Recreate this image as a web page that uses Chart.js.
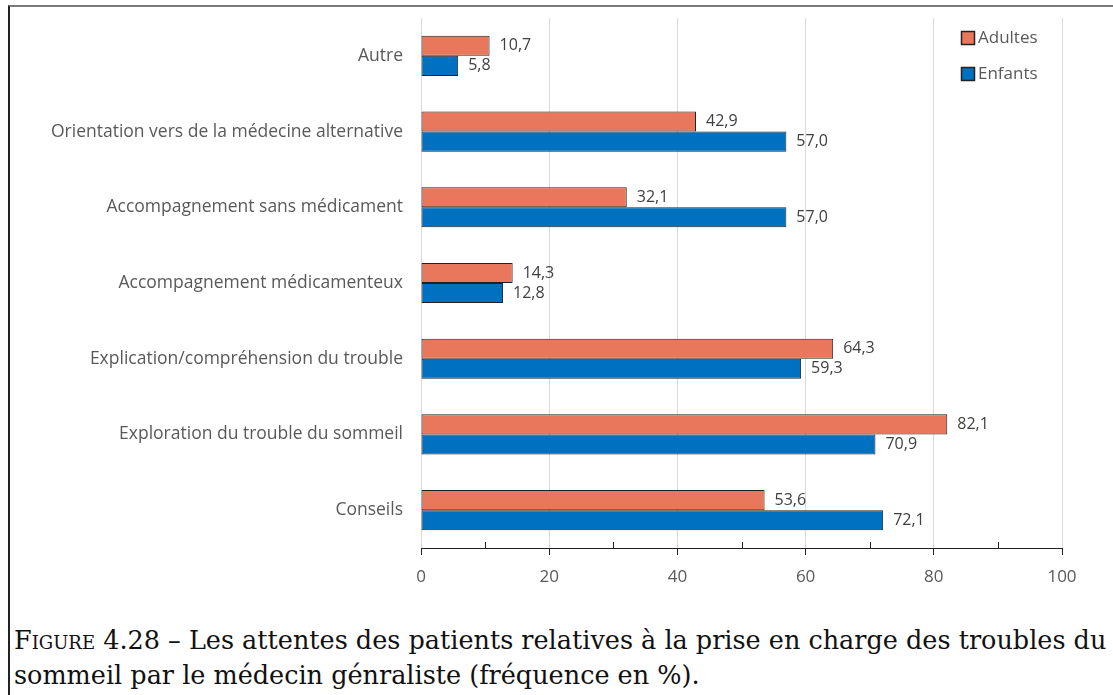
<!DOCTYPE html>
<html>
<head>
<meta charset="utf-8">
<script src="https://cdn.jsdelivr.net/npm/chart.js@4"></script>
<style>
    body { margin: 0; background: #fff; width: 1113px; height: 695px; overflow: hidden; position: relative; }
    #frame { position: absolute; left: 8px; top: 5px; width: 1110px; height: 700px;
             border-top: 2px solid #7a7a7a; border-left: 2px solid #222; }
    #wrap { position: absolute; left: 10px; top: 7px; width: 1103px; height: 585px; }
    .cap { position: absolute; left: 14px; font-family: "DejaVu Serif", serif; font-size: 25.5px;
           color: #111; white-space: nowrap; line-height: 30px; }
    .sc { font-variant: small-caps; }
</style>
</head>
<body>
<div id="frame"></div>
<div id="wrap"><canvas id="chart"></canvas></div>
<div class="cap" style="top:625px;"><span class="sc">Figure</span> 4.28 – Les attentes des patients relatives à la prise en charge des troubles du</div>
<div class="cap" style="top:660px;">sommeil par le médecin génraliste (fréquence en %).</div>
<script>
const categories = [
    'Autre',
    'Orientation vers de la médecine alternative',
    'Accompagnement sans médicament',
    'Accompagnement médicamenteux',
    'Explication/compréhension du trouble',
    'Exploration du trouble du sommeil',
    'Conseils'
];
const adultes = [10.7, 42.9, 32.1, 14.3, 64.3, 82.1, 53.6];
const enfants = [5.8, 57.0, 57.0, 12.8, 59.3, 70.9, 72.1];
const xTicks = [0, 20, 40, 60, 80, 100];
const minorTicks = [10, 30, 50, 70, 90];

const labelFont = '"Open Sans", sans-serif';
const textGray = '#595959';

// value labels next to each bar
const valueLabels = {
    id: 'valueLabels',
    afterDatasetsDraw(chart) {
        const ctx = chart.ctx;
        ctx.save();
        ctx.font = '16px ' + labelFont;
        ctx.fillStyle = '#404040';
        ctx.textBaseline = 'middle';
        ctx.textAlign = 'left';
        chart.data.datasets.forEach((ds, i) => {
            chart.getDatasetMeta(i).data.forEach((bar, j) => {
                ctx.fillText(ds.data[j].toFixed(1).replace('.', ','), bar.x + 10, bar.y);
            });
        });
        ctx.restore();
    }
};

// small ticks above the axis at odd tens
const minorTickMarks = {
    id: 'minorTickMarks',
    afterDraw(chart) {
        const x = chart.scales.x;
        const ctx = chart.ctx;
        ctx.save();
        ctx.strokeStyle = '#222';
        ctx.lineWidth = 1;
        minorTicks.forEach(v => {
            const px = Math.round(x.getPixelForValue(v)) + 0.5;
            ctx.beginPath();
            ctx.moveTo(px, x.top - 6);
            ctx.lineTo(px, x.top);
            ctx.stroke();
        });
        ctx.restore();
    }
};

// legend stacked in the top right corner
const cornerLegend = {
    id: 'cornerLegend',
    afterDraw(chart) {
        const ctx = chart.ctx;
        ctx.save();
        ctx.font = '17px ' + labelFont;
        ctx.textBaseline = 'middle';
        chart.data.datasets.forEach((ds, i) => {
            const y = 31 + i * 36;
            ctx.fillStyle = ds.backgroundColor;
            ctx.fillRect(952, y - 6, 12, 12);
            ctx.strokeStyle = '#222';
            ctx.lineWidth = 1.5;
            ctx.strokeRect(951.5, y - 6.5, 13, 13);
            ctx.fillStyle = textGray;
            ctx.fillText(ds.label, 968, y);
        });
        ctx.restore();
    }
};

new Chart(document.getElementById('chart'), {
    type: 'bar',
    data: {
        labels: categories,
        datasets: [
            {
                label: 'Adultes',
                data: adultes,
                backgroundColor: '#E9775C',
                borderColor: '#222',
                borderWidth: 1,
                borderSkipped: false
            },
            {
                label: 'Enfants',
                data: enfants,
                backgroundColor: '#0070C0',
                borderColor: '#222',
                borderWidth: 1,
                borderSkipped: false
            }
        ]
    },
    options: {
        indexAxis: 'y',
        responsive: true,
        maintainAspectRatio: false,
        animation: false,
        categoryPercentage: 0.53,
        barPercentage: 1,
        layout: { padding: { top: 11, right: 51, bottom: 0, left: 0 } },
        scales: {
            x: {
                min: 0,
                max: 100,
                afterBuildTicks: axis => { axis.ticks = xTicks.map(v => ({ value: v })); },
                afterFit: axis => { axis.height = 44; axis.paddingLeft = 0; axis.paddingRight = 0; },
                grid: { color: '#d9d9d9', tickColor: '#222', tickLength: 7 },
                border: { color: '#222', width: 1 },
                ticks: { color: textGray, font: { size: 17, family: labelFont }, padding: 12 }
            },
            y: {
                afterFit: axis => { axis.width = 411; axis.paddingTop = 0; axis.paddingBottom = 0; },
                grid: { display: false, drawTicks: false },
                border: { display: false },
                ticks: { color: textGray, font: { size: 17.5, family: labelFont }, padding: 18 }
            }
        },
        plugins: {
            legend: { display: false },
            tooltip: { enabled: false }
        }
    },
    plugins: [valueLabels, minorTickMarks, cornerLegend]
});
</script>
</body>
</html>
